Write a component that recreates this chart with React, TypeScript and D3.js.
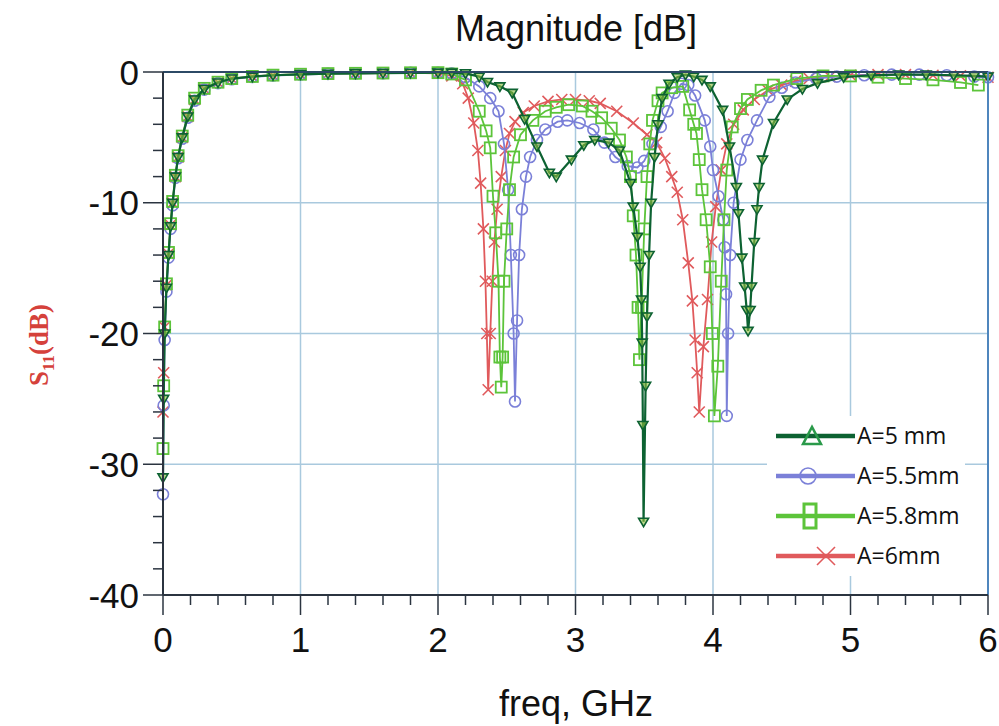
import React from 'react';
import * as d3 from 'd3';

// ---- data ----
const xTickValues = [0, 1, 2, 3, 4, 5, 6];
const yTickValues = [0, -10, -20, -30, -40];
const seriesNames = ['A=5 mm', 'A=5.5mm', 'A=5.8mm', 'A=6mm'];

const freqA5 = [0, 0.005, 0.012, 0.025, 0.04, 0.055, 0.07, 0.09, 0.11, 0.14, 0.18, 0.23, 0.3, 0.4, 0.5, 0.65, 0.8, 1.0, 1.2, 1.4, 1.6, 1.8, 2.0, 2.1, 2.2, 2.3, 2.36, 2.45, 2.54, 2.63, 2.72, 2.81, 2.86, 2.97, 3.06, 3.14, 3.24, 3.32, 3.4, 3.42, 3.45, 3.47, 3.48, 3.485, 3.49, 3.495, 3.51, 3.52, 3.535, 3.55, 3.575, 3.6, 3.63, 3.68, 3.74, 3.8, 3.86, 3.92, 3.98, 4.07, 4.12, 4.17, 4.185, 4.21, 4.23, 4.245, 4.255, 4.27, 4.28, 4.3, 4.32, 4.335, 4.36, 4.44, 4.54, 4.65, 4.76, 4.95, 5.15, 5.35, 5.55, 5.75, 5.9, 6.0];
const dbA5 = [-31, -25, -20, -16.5, -14, -11.8, -10, -8, -6.5, -5, -3.4, -2.1, -1.3, -0.8, -0.5, -0.35, -0.25, -0.18, -0.13, -0.1, -0.08, -0.06, -0.05, -0.05, -0.1, -0.35, -0.76, -1.1, -1.6, -3.6, -5.7, -7.7, -8.0, -6.7, -5.6, -5.2, -5.4, -6.0, -8.5, -10.3, -12.6, -14.9, -17.4, -20.7, -27, -34.4, -24, -18.7, -14, -10, -6.5, -4, -2, -0.9, -0.4, -0.2, -0.35, -0.6, -1.1, -2.9, -5.7, -8.8, -10.8, -14.2, -16.4, -18.2, -19.8, -18.2, -16.4, -13, -10.5, -8.8, -6.7, -3.9, -2.1, -1.3, -0.85, -0.4, -0.25, -0.2, -0.2, -0.25, -0.3, -0.35];

const freqA55 = [0, 0.005, 0.012, 0.025, 0.04, 0.055, 0.07, 0.09, 0.11, 0.14, 0.18, 0.23, 0.3, 0.4, 0.5, 0.65, 0.8, 1.0, 1.2, 1.4, 1.6, 1.8, 2.0, 2.1, 2.2, 2.3, 2.38, 2.44, 2.48, 2.51, 2.53, 2.55, 2.56, 2.575, 2.59, 2.61, 2.64, 2.67, 2.72, 2.78, 2.87, 2.94, 3.03, 3.13, 3.21, 3.29, 3.38, 3.45, 3.5, 3.56, 3.62, 3.67, 3.72, 3.77, 3.82, 3.87, 3.94, 3.98, 4.0, 4.04, 4.075, 4.085, 4.095, 4.1, 4.11, 4.125, 4.15, 4.2, 4.25, 4.32, 4.41, 4.5, 4.6, 4.75, 4.9, 5.1, 5.3, 5.5, 5.7, 5.9, 6.0];
const dbA55 = [-32.3, -25.5, -20.5, -16.8, -14.2, -12, -10.2, -8.1, -6.6, -5.1, -3.5, -2.2, -1.35, -0.85, -0.55, -0.38, -0.27, -0.19, -0.14, -0.11, -0.09, -0.07, -0.06, -0.1, -0.4, -1.1, -2, -3, -5.5, -9, -14, -20, -25.2, -19, -14, -10.5, -8, -6.5, -5.2, -4.4, -3.8, -3.7, -3.9, -4.4, -5.4, -6.5, -7.2, -7.3, -6.8, -5.5, -4.2, -3.0, -1.6, -0.9, -1.0, -1.8, -3.7, -5.7, -7.5, -9.5, -11.3, -13.4, -17, -26.3, -20, -14, -10, -6.7, -5.2, -3.7, -1.9, -1.2, -0.8, -0.5, -0.35, -0.25, -0.2, -0.2, -0.25, -0.35, -0.4];

const freqA58 = [0, 0.005, 0.012, 0.025, 0.04, 0.055, 0.07, 0.09, 0.11, 0.14, 0.18, 0.23, 0.3, 0.4, 0.5, 0.65, 0.8, 1.0, 1.2, 1.4, 1.6, 1.8, 2.0, 2.1, 2.2, 2.3, 2.35, 2.38, 2.4, 2.42, 2.44, 2.45, 2.46, 2.47, 2.48, 2.5, 2.52, 2.55, 2.6, 2.69, 2.78, 2.86, 2.95, 3.05, 3.12, 3.19, 3.26, 3.32, 3.37, 3.4, 3.42, 3.44, 3.455, 3.465, 3.48, 3.5, 3.52, 3.54, 3.56, 3.6, 3.63, 3.7, 3.78, 3.83, 3.86, 3.88, 3.9, 3.92, 3.95, 3.98, 3.995, 4.01, 4.035, 4.06, 4.08, 4.1, 4.14, 4.2, 4.25, 4.35, 4.44, 4.61, 4.8, 5.0, 5.2, 5.4, 5.6, 5.8, 5.93];
const dbA58 = [-28.8, -24, -19.5, -16.2, -13.8, -11.6, -9.9, -7.9, -6.4, -4.9, -3.3, -2.0, -1.25, -0.78, -0.5, -0.34, -0.24, -0.17, -0.12, -0.1, -0.08, -0.06, -0.05, -0.15, -0.6, -3, -4.5, -5.8, -9.5, -12.3, -16, -21.8, -24.1, -21.8, -16, -12, -9, -6.5, -4.8, -3.7, -3, -2.7, -2.5, -2.6, -3, -3.5, -4.3, -5.2, -6.5, -8, -11, -14, -18, -22, -18, -12, -8, -5.5, -3.7, -2.2, -1.6, -1.2, -1.1, -2.9, -4, -4.7, -6.7, -9, -11.3, -14.9, -20, -26.3, -22.5, -16, -11.3, -7.5, -4.2, -2.8, -2.1, -1.4, -1.0, -0.5, -0.3, -0.3, -0.4, -0.5, -0.6, -0.8, -1.0];

const freqA6 = [0, 0.005, 0.012, 0.025, 0.04, 0.055, 0.07, 0.09, 0.11, 0.14, 0.18, 0.23, 0.3, 0.4, 0.5, 0.65, 0.8, 1.0, 1.2, 1.4, 1.6, 1.8, 2.0, 2.1, 2.18, 2.22, 2.26, 2.29, 2.31, 2.33, 2.345, 2.355, 2.365, 2.38, 2.395, 2.41, 2.43, 2.46, 2.49, 2.52, 2.56, 2.62, 2.7, 2.8, 2.9, 3.0, 3.1, 3.18, 3.3, 3.42, 3.52, 3.59, 3.65, 3.7, 3.74, 3.78, 3.82, 3.85, 3.87, 3.885, 3.9, 3.93, 3.96, 3.99, 4.02, 4.06, 4.1, 4.15, 4.22, 4.3, 4.4, 4.5, 4.6, 4.7, 4.85, 5.0, 5.2, 5.4, 5.6, 5.8, 6.0];
const dbA6 = [-26, -23, -19.5, -16.3, -13.9, -11.7, -10, -8, -6.5, -5, -3.4, -2.1, -1.3, -0.8, -0.5, -0.35, -0.25, -0.18, -0.13, -0.1, -0.08, -0.07, -0.1, -0.3, -0.9, -2, -3.9, -6, -8.5, -12, -16, -20, -24.3, -20, -16, -13, -10.5, -8, -6, -4.7, -3.8, -3.1, -2.6, -2.25, -2.1, -2.1, -2.2, -2.4, -3, -3.9, -4.8, -5.4, -6.6, -8, -9.2, -11.3, -14.6, -17.5, -20.5, -23, -26, -21, -17.4, -13, -10.3, -7.5, -5.5, -4, -2.9, -2.1, -1.4, -1.0, -0.7, -0.5, -0.35, -0.25, -0.2, -0.2, -0.25, -0.3, -0.4];

const colors = ['#0d6232', '#7b80d8', '#5cc43a', '#e05a5c'];
const markerKinds = ['tri', 'circle', 'square', 'x'];

const L = 163, R = 988, T = 72, B = 595;

function Marker({ kind, cx, cy, color, s = 5 }: { kind: string; cx: number; cy: number; color: string; s?: number }) {
  if (kind === 'tri') {
    const p = `M${cx - s},${cy - s * 0.7}L${cx + s},${cy - s * 0.7}L${cx},${cy + s}Z`;
    return <path d={p} fill="#8fbf3f" fillOpacity={0.6} stroke={color} strokeWidth={1.6} />;
  }
  if (kind === 'triUp') {
    const p = `M${cx - s},${cy + s * 0.9}L${cx + s},${cy + s * 0.9}L${cx},${cy - s}Z`;
    return <path d={p} fill="none" stroke="#2a9a4a" strokeWidth={2.5} />;
  }
  if (kind === 'circle') return <circle cx={cx} cy={cy} r={s} fill="none" stroke={color} strokeWidth={1.6} />;
  if (kind === 'square') return <rect x={cx - s} y={cy - s} width={2 * s} height={2 * s} fill="none" stroke={color} strokeWidth={1.8} />;
  return (
    <g stroke={color} strokeWidth={1.6}>
      <line x1={cx - s} y1={cy - s} x2={cx + s} y2={cy + s} />
      <line x1={cx - s} y1={cy + s} x2={cx + s} y2={cy - s} />
    </g>
  );
}

export default function App() {
  const x = d3.scaleLinear().domain([0, 6]).range([L, R]);
  const y = d3.scaleLinear().domain([-40, 0]).range([B, T]);

  const series = [
    { f: freqA5, d: dbA5 },
    { f: freqA55, d: dbA55 },
    { f: freqA58, d: dbA58 },
    { f: freqA6, d: dbA6 },
  ].map((s, i) => ({
    name: seriesNames[i],
    color: colors[i],
    kind: markerKinds[i],
    pts: s.f.map((fv, j) => [fv, s.d[j]] as [number, number]),
  }));

  const line = d3.line<[number, number]>().x(p => x(p[0])).y(p => y(p[1]));
  const drawOrder = [3, 1, 2, 0];
  const xMinor = d3.range(0, 6.0001, 0.2);
  const yMinor = d3.range(-40, 0.0001, 2);
  const font = 'Liberation Sans, Arial, sans-serif';

  return (
    <div style={{ position: 'absolute', left: 0, top: 0 }}>
      <svg width={999} height={726} style={{ display: 'block', background: '#fff' }}>
        {/* grid */}
        {xTickValues.filter(v => v > 0 && v < 6).map(v => (
          <line key={'gx' + v} x1={x(v)} x2={x(v)} y1={T} y2={B} stroke="#a9c9de" strokeWidth={1.5} />
        ))}
        {yTickValues.filter(v => v < 0 && v > -40).map(v => (
          <line key={'gy' + v} x1={L} x2={R} y1={y(v)} y2={y(v)} stroke="#a9c9de" strokeWidth={1.5} />
        ))}
        {/* curves */}
        {drawOrder.map(i => {
          const s = series[i];
          return (
            <g key={s.name}>
              <path d={line(s.pts) || ''} fill="none" stroke={s.color} strokeWidth={i === 0 ? 2.2 : 1.8} />
              {s.pts.map((p, j) => (
                <Marker key={j} kind={s.kind} cx={x(p[0])} cy={y(p[1])} color={s.color} s={i === 0 ? 5 : 5.5} />
              ))}
            </g>
          );
        })}
        {/* frame */}
        <line x1={L} x2={R} y1={T} y2={T} stroke="#2c4a66" strokeWidth={2} />
        <line x1={R} x2={R} y1={T} y2={B} stroke="#4f86bd" strokeWidth={2} />
        <line x1={L} x2={L} y1={T} y2={B} stroke="#2b3440" strokeWidth={2} />
        <line x1={L} x2={R} y1={B} y2={B} stroke="#2b3440" strokeWidth={2} />
        {/* y ticks */}
        {yMinor.map(v => (
          <line key={'ym' + v} x1={L - (v % 10 === 0 ? 20 : 10)} x2={L} y1={y(v)} y2={y(v)} stroke="#2b3440" strokeWidth={1.5} />
        ))}
        {yTickValues.map(v => (
          <text key={'yl' + v} x={L - 24} y={y(v)} dy="0.36em" textAnchor="end" fontFamily={font} fontSize={35} fill="#111">{v}</text>
        ))}
        {/* x ticks */}
        {xMinor.map(v => {
          const major = Math.abs(v - Math.round(v)) < 1e-6;
          return <line key={'xm' + v.toFixed(1)} x1={x(v)} x2={x(v)} y1={B} y2={B + (major ? 20 : 10)} stroke="#2b3440" strokeWidth={1.5} />;
        })}
        {xTickValues.map(v => (
          <text key={'xl' + v} x={x(v)} y={B + 57} textAnchor="middle" fontFamily={font} fontSize={35} fill="#111">{v}</text>
        ))}
        {/* titles */}
        <text x={576} y={41} textAnchor="middle" fontFamily={font} fontSize={36} fill="#111">Magnitude [dB]</text>
        <text x={576} y={716} textAnchor="middle" fontFamily={font} fontSize={36} fill="#111">freq, GHz</text>
        <text transform="translate(48,345) rotate(-90)" textAnchor="middle" fontFamily="Liberation Serif, Times New Roman, serif" fontWeight="bold" fontSize={27} fill="#d5413b">
          S<tspan fontSize={17} dy={6}>11</tspan><tspan dy={-6}>(dB)</tspan>
        </text>
        {/* legend */}
        <rect x={767} y={416} width={198} height={160} fill="#fff" />
        {series.map((s, i) => {
          const ly = 436 + i * 40;
          const mx = [812, 808, 810, 826][i];
          return (
            <g key={'lg' + i}>
              <line x1={776} x2={855} y1={ly} y2={ly} stroke={s.color} strokeWidth={4.5} />
              {i === 0 ? (
                <Marker kind="triUp" cx={mx} cy={ly} color={s.color} s={9} />
              ) : i === 2 ? (
                <rect x={mx - 6} y={ly - 12} width={12} height={24} fill="none" stroke={s.color} strokeWidth={3} />
              ) : (
                <Marker kind={s.kind} cx={mx} cy={ly} color={s.color} s={i === 1 ? 8 : 9} />
              )}
              <text x={857} y={ly} dy="0.36em" fontFamily="Open Sans, sans-serif" fontSize={23} fill="#111">{s.name}</text>
            </g>
          );
        })}
      </svg>
    </div>
  );
}
